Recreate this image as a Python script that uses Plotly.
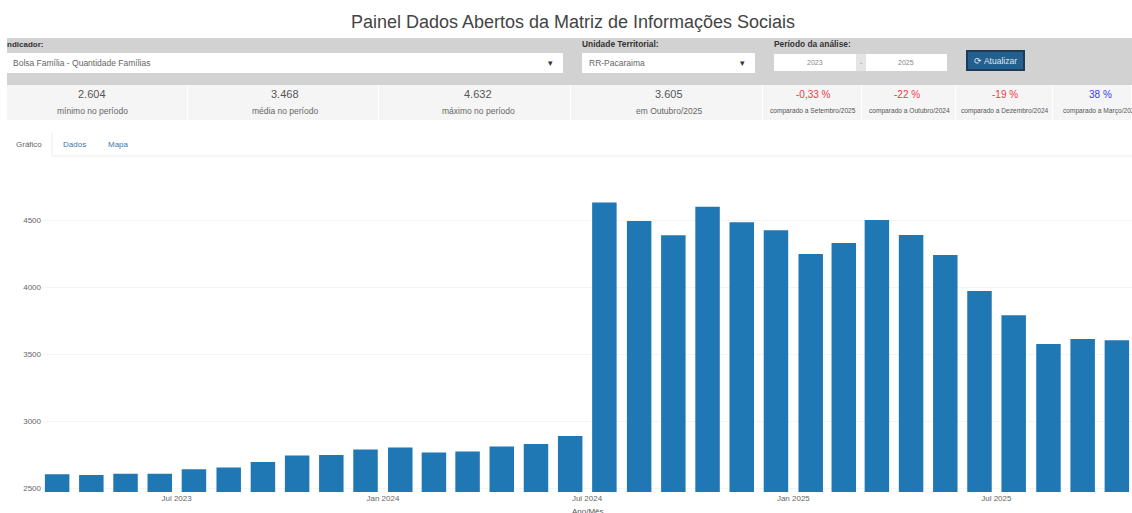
import plotly.graph_objects as go

W, H = 1132, 513
months = ["2023-03","2023-04","2023-05","2023-06","2023-07","2023-08","2023-09","2023-10","2023-11","2023-12",
          "2024-01","2024-02","2024-03","2024-04","2024-05","2024-06","2024-07","2024-08","2024-09","2024-10",
          "2024-11","2024-12","2025-01","2025-02","2025-03","2025-04","2025-05","2025-06","2025-07","2025-08",
          "2025-09","2025-10"]
familias = [2604,2598,2608,2608,2641,2654,2696,2744,2748,2789,2804,2766,2774,2811,2830,2890,
            4632,4494,4387,4600,4484,4425,4248,4330,4501,4390,4240,3972,3790,3576,3613,3605]
titulo = "Painel Dados Abertos da Matriz de Informações Sociais"
rotulos_filtro = ["ndicador:", "Unidade Territorial:", "Período da análise:"]
valores_filtro = ["Bolsa Família - Quantidade Famílias", "RR-Pacaraima", "2023", "2025"]
botao = "⟳ Atualizar"
kpi_valores = ["2.604", "3.468", "4.632", "3.605"]
kpi_rotulos = ["mínimo no período", "média no período", "máximo no período", "em Outubro/2025"]
cmp_valores = ["-0,33 %", "-22 %", "-19 %", "38 %"]
cmp_rotulos = ["comparado a Setembro/2025", "comparado a Outubro/2024", "comparado a Dezembro/2024", "comparado a Março/2023"]
abas = ["Gráfico", "Dados", "Mapa"]

FONT = "Liberation Sans, Arial, sans-serif"
fig = go.Figure(go.Bar(x=months, y=familias, xperiod="M1", xperiodalignment="middle",
                       marker=dict(color="#1f77b4", line_width=0)))

def px(x): return x / W
def py(y): return 1 - y / H

shapes, ann = [], []
def rect(x0, y0, x1, y1, fill, line=None, lw=1):
    shapes.append(dict(type="rect", xref="paper", yref="paper", x0=px(x0), x1=px(x1), y0=py(y0), y1=py(y1),
                       fillcolor=fill, line=dict(color=line or fill, width=lw if line else 0), layer="below"))
def text(x, y, s, size, color="#555", anchor="center", bold=False):
    ann.append(dict(xref="paper", yref="paper", x=px(x), y=py(y), text=f"<b>{s}</b>" if bold else s, showarrow=False,
                    xanchor=anchor, yanchor="middle", font=dict(size=size, color=color, family=FONT)))

# filter band
rect(7, 38, W, 85, "#d2d2d2")
rect(7, 53, 563, 73, "#ffffff")
rect(582, 53, 755, 73, "#ffffff")
rect(774, 54, 856, 71, "#ffffff")
rect(856, 54, 866, 71, "#e4e4e4")
rect(866, 54, 947, 71, "#ffffff")
rect(967, 51, 1024, 70, "#235f8f", "#1d3b57", 2)
text(5, 44, rotulos_filtro[0], 8, "#333", "left", True)
text(580, 44, rotulos_filtro[1], 8.4, "#333", "left", True)
text(772, 44, rotulos_filtro[2], 8.4, "#333", "left", True)
text(11, 63, valores_filtro[0], 8.5, "#666", "left")
text(587, 63, valores_filtro[1], 8.5, "#666", "left")
text(815, 62, valores_filtro[2], 7, "#888")
text(906, 62, valores_filtro[3], 7, "#888")
text(861, 62, "-", 7, "#888")
text(550, 63, "▾", 9, "#333")
text(742, 63, "▾", 9, "#333")
text(995, 61, botao, 8.5, "#dfe8f0")

# KPI cards
card_edges = [7, 188, 379, 571, 763, 862, 956, 1053, W]
for a, b in zip(card_edges[:-1], card_edges[1:]):
    rect(a, 85, b - 1, 120, "#f5f5f5")
kpi_x = [92, 285, 478, 669]
for i in range(4):
    text(kpi_x[i], 94, kpi_valores[i], 11, "#555")
    text(kpi_x[i], 111, kpi_rotulos[i], 8.5, "#666")
cmp_cores = ["#f03a47", "#f03a47", "#f03a47", "#3a3af0"]
cmp_x = [813, 907, 1005, 1100]
rot_x = [813, 909, 1005]
for i in range(4):
    text(cmp_x[i], 94, cmp_valores[i], 10, cmp_cores[i])
for i in range(3):
    text(rot_x[i], 111, cmp_rotulos[i], 6.6, "#555")
text(1061, 111, cmp_rotulos[3], 6.6, "#555", "left")

# tabs
shapes.append(dict(type="line", xref="paper", yref="paper", x0=px(52), x1=1, y0=py(156), y1=py(156),
                   line=dict(color="#ececec", width=1), layer="below"))
shapes.append(dict(type="line", xref="paper", yref="paper", x0=px(52), x1=px(52), y0=py(132), y1=py(156),
                   line=dict(color="#ececec", width=1), layer="below"))
text(29, 144, abas[0], 8, "#666")
text(74, 144, abas[1], 8, "#3b78ab")
text(118, 144, abas[2], 8, "#3b78ab")
text(588, 511, "Ano/Mês", 8, "#555")

fig.update_layout(
    width=W, height=H, margin=dict(l=0, r=0, t=0, b=0), paper_bgcolor="white", plot_bgcolor="white",
    showlegend=False, bargap=0.26, shapes=shapes, annotations=ann,
    title=dict(text=titulo, x=px(573), xanchor="center", y=py(22), yanchor="middle",
               font=dict(size=18, color="#444", family=FONT)),
    xaxis=dict(domain=[px(42), 1], type="date", range=["2023-03-03", "2025-10-30"], dtick="M6", tick0="2023-01-01",
               tickformat="%b %Y", showgrid=False, zeroline=False, ticks="", tickfont=dict(size=8, color="#666", family=FONT)),
    yaxis=dict(domain=[py(492), py(180)], range=[2471.6, 4800], tickvals=[2500, 3000, 3500, 4000, 4500], tickformat="d",
               gridcolor="#f4f4f4", zeroline=False, ticks="", tickfont=dict(size=8, color="#666", family=FONT),
               anchor="x", automargin=False),
)
fig.write_html("out.html", config={"displayModeBar": False},
               post_script="document.body.style.margin='0';document.body.style.overflow='hidden';")
